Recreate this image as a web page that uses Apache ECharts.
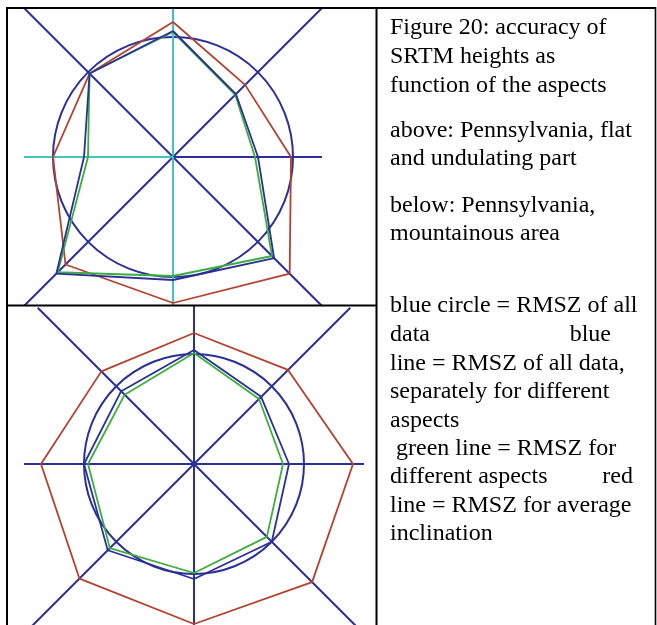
<!DOCTYPE html>
<html><head><meta charset="utf-8">
<script src="https://cdn.jsdelivr.net/npm/echarts@6/dist/echarts.min.js"></script>
<style>html,body{margin:0;padding:0;background:#fff}#c{width:657px;height:625px}</style>
</head><body><div id="c"></div>
<script>
// aspects (compass bearing, degrees clockwise from north)
const aspects = [0, 45, 90, 135, 180, 225, 270, 315];
const aspectNames = ['N', 'NE', 'E', 'SE', 'S', 'SW', 'W', 'NW'];

// upper figure: Pennsylvania, flat and undulating part (RMSZ, relative units)
const upperCircle = 120;
const upperBlue  = [126, 89, 85, 143, 123, 165, 89, 118];
const upperGreen = [125, 88, 82, 140, 119, 163, 85, 118];
const upperRed   = [135, 102, 118, 165, 146, 152, 120, 118];

// lower figure: Pennsylvania, mountainous area
const lowerCircle = 110;
const lowerBlue  = [114, 95, 95, 110, 115, 122, 110, 103];
const lowerGreen = [111, 92, 89, 103, 109, 119, 106, 98];
const lowerRed   = [131, 133, 159, 167, 160, 162, 153, 131];

// caption text lines
const captionLines = [
  'Figure 20: accuracy of',
  'SRTM heights as',
  'function of the aspects',
  'above: Pennsylvania, flat',
  'and undulating part',
  'below: Pennsylvania,',
  'mountainous area',
  'blue circle = RMSZ of all',
  'data',
  'line = RMSZ of all data,',
  'separately for different',
  'aspects',
  ' green line = RMSZ for',
  'different aspects',
  'line = RMSZ for average',
  'inclination'
];
const captionRightWords = [['blue', 8], ['red', 13]];

const BLUE = '#2b2f98', RED = '#b5402f', GREEN = '#3cae3c', CYAN = '#45c2c2', T = 'rgba(0,0,0,0)';
const captionBaselines = [36, 65, 94, 139, 167, 214, 242, 314, 343, 372, 400, 429, 457, 485, 514, 542];

function ring(values) {
  const d = aspects.map((a, i) => [values[i], a]);
  d.push([values[0], 360]);
  return d;
}

const polar = [], angleAxis = [], radiusAxis = [];
function addPolar(center, radius, angleInterval, spokeColors, circleValue) {
  const k = polar.length;
  polar.push({ center: center, radius: radius });
  angleAxis.push({
    polarIndex: k, type: 'value', min: 0, max: 360, interval: angleInterval,
    startAngle: 90, clockwise: true,
    axisLine: { show: false }, axisTick: { show: false }, axisLabel: { show: false },
    splitLine: { show: true, lineStyle: { color: spokeColors, width: 2 } }
  });
  radiusAxis.push({
    polarIndex: k, type: 'value', min: 0, max: radius,
    interval: circleValue || radius,
    axisLine: { show: false }, axisTick: { show: false }, axisLabel: { show: false },
    splitLine: { show: !!circleValue, lineStyle: { color: [T, BLUE, T, T], width: 2 } }
  });
  return k;
}

const upC = [173, 157], loC = [194, 464];
const upData = addPolar(upC, 210, 45, [T, BLUE, T, BLUE, T, BLUE, T, BLUE], upperCircle);
addPolar(upC, 149, 90, [CYAN, BLUE, CYAN, CYAN]);
const loData = addPolar(loC, 221, 45, [T, BLUE, T, T, T, T, T, BLUE], lowerCircle);
addPolar(loC, 240, 45, [T, T, T, BLUE, BLUE, BLUE, T, T]);
addPolar(loC, 158, 90, [BLUE, T, T, T]);
addPolar(loC, 170, 90, [T, BLUE, T, BLUE]);

function lineSeries(name, values, color, idx, w) {
  return {
    name: name, type: 'line', coordinateSystem: 'polar', polarIndex: idx,
    data: ring(values), symbol: 'none', silent: true, animation: false,
    lineStyle: { color: color, width: w }
  };
}

const series = [
  lineSeries('upper red', upperRed, RED, upData, 1.8),
  lineSeries('upper green', upperGreen, GREEN, upData, 1.8),
  lineSeries('upper blue', upperBlue, BLUE, upData, 1.8),
  lineSeries('lower red', lowerRed, RED, loData, 1.8),
  lineSeries('lower green', lowerGreen, GREEN, loData, 1.8),
  lineSeries('lower blue', lowerBlue, BLUE, loData, 1.8)
];

const FONT = '24px "Liberation Serif", "Times New Roman", serif';
const graphic = [];
function border(x1, y1, x2, y2, w) {
  graphic.push({ type: 'line', z: 100, silent: true,
    shape: { x1: x1, y1: y1, x2: x2, y2: y2 }, style: { stroke: '#000', lineWidth: w } });
}
border(7, 8, 656, 8, 2);
border(7, 7, 7, 625, 2);
border(655.5, 7, 655.5, 625, 1.6);
border(376.5, 7, 376.5, 625, 2);
border(7, 305.5, 376.5, 305.5, 2);

captionLines.forEach((t, i) => {
  graphic.push({ type: 'text', z: 50, silent: true, x: 390, y: captionBaselines[i] - 8,
    style: { text: t, font: FONT, fill: '#000', align: 'left', verticalAlign: 'middle' } });
});
const rightX = { 'blue': 611, 'red': 633 };
captionRightWords.forEach(([w, i]) => {
  graphic.push({ type: 'text', z: 50, silent: true, x: rightX[w], y: captionBaselines[i] - 8,
    style: { text: w, font: FONT, fill: '#000', align: 'right', verticalAlign: 'middle' } });
});

const chart = echarts.init(document.getElementById('c'), null, { renderer: 'canvas' });
chart.setOption({
  backgroundColor: '#fff',
  animation: false,
  polar: polar,
  angleAxis: angleAxis,
  radiusAxis: radiusAxis,
  series: series,
  graphic: graphic
});
</script>
</body></html>
